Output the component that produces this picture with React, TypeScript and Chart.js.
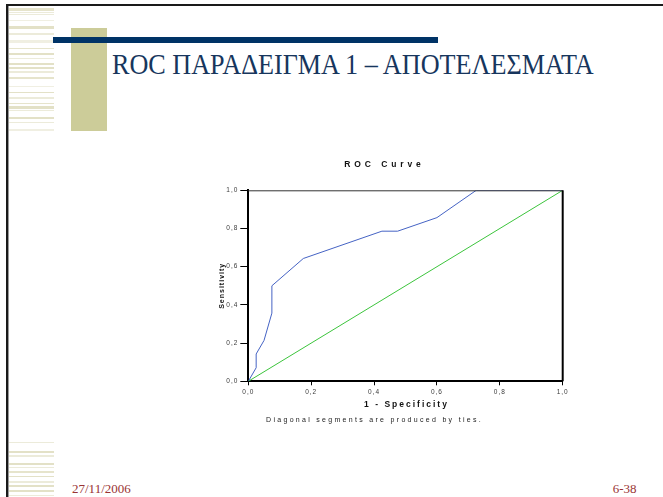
import React, { useEffect, useRef } from "react";
import { Chart, registerables } from "chart.js";

Chart.register(...registerables);

// ---- text ----
const slideTitle = "ROC ΠΑΡΑΔΕΙΓΜΑ 1 – ΑΠΟΤΕΛΕΣΜΑΤΑ";
const chartTitle = "ROC Curve";
const xAxisTitle = "1 - Specificity";
const yAxisTitle = "Sensitivity";
const footnote = "Diagonal segments are produced by ties.";
const footerDate = "27/11/2006";
const footerPage = "6-38";

// ---- data ----
const rocFpr = [0, 0.025, 0.025, 0.05, 0.075, 0.075, 0.175, 0.425, 0.475, 0.6, 0.725, 1];
const rocTpr = [0, 0.071, 0.143, 0.214, 0.357, 0.5, 0.643, 0.786, 0.786, 0.857, 1, 1];
const refFpr = [0, 1];
const refTpr = [0, 1];
const axisMin = 0;
const axisMax = 1;
const axisStep = 0.2;

// ---- slide decoration stripes (top / bottom of left margin) ----
const stripesTop: [number, number, string][] = [
  [8, 2.7, "#E6E4CC"], [12, 0.8, "#ECEBDA"], [14, 1.4, "#ECEBDA"], [20, 1.4, "#F0EFE2"],
  [26, 2.7, "#E3E1C7"], [33.3, 1.4, "#ECEBDA"], [40, 2.7, "#F0EFE2"], [48, 0.8, "#E6E4CC"],
  [52.7, 2, "#E3E1C7"], [58, 1.4, "#ECEBDA"], [63.3, 1.4, "#E3E1C7"], [66.7, 2.6, "#E3E1C7"],
  [71.3, 1.4, "#ECEBDA"], [77.3, 1.4, "#E6E4CC"], [86, 1.4, "#F0EFE2"], [92, 1.4, "#E3E1C7"],
  [96.7, 2, "#ECEBDA"], [102.7, 1.4, "#E6E4CC"], [106, 2.7, "#E3E1C7"], [110, 1.4, "#ECEBDA"],
  [116.7, 2.6, "#E3E1C7"], [122, 1.4, "#ECEBDA"], [128.7, 2, "#F0EFE2"],
];
const stripesBottom: [number, number, string][] = [
  [442, 1.4, "#ECEBDA"], [450.7, 2.6, "#E3E1C7"], [455.3, 1.4, "#ECEBDA"], [463.3, 1.4, "#E3E1C7"],
  [466.7, 1.4, "#ECEBDA"], [471.3, 1.4, "#E6E4CC"], [476, 1.4, "#E3E1C7"], [481.3, 1.4, "#ECEBDA"],
  [485.3, 1.4, "#E3E1C7"], [490, 2, "#E3E1C7"], [494.7, 1.4, "#ECEBDA"],
];

const fmt = (v: number) => v.toFixed(1).replace(".", ",");

const drawSpaced = (
  ctx: CanvasRenderingContext2D,
  text: string,
  x: number,
  y: number,
  font: string,
  spacing: number,
  align: CanvasTextAlign = "center"
) => {
  (ctx as any).letterSpacing = spacing + "px";
  ctx.font = font;
  ctx.textAlign = align;
  ctx.textBaseline = "alphabetic";
  ctx.fillText(text, x, y);
};

const decorPlugin = {
  id: "spssDecor",
  beforeDraw(chart: any) {
    (chart.ctx as any).letterSpacing = "1px";
  },
  afterDraw(chart: any) {
    const ctx: CanvasRenderingContext2D = chart.ctx;
    const a = chart.chartArea;
    ctx.save();
    // top and right frame lines
    ctx.strokeStyle = "#333";
    ctx.lineWidth = 1;
    ctx.beginPath();
    ctx.moveTo(a.left, a.top + 0.5);
    ctx.lineTo(a.right, a.top + 0.5);
    ctx.stroke();
    ctx.strokeStyle = "#000";
    ctx.lineWidth = 2;
    ctx.beginPath();
    ctx.moveTo(a.right, a.top);
    ctx.lineTo(a.right, a.bottom);
    ctx.stroke();

    ctx.fillStyle = "#111";
    const cx = (a.left + a.right) / 2;
    drawSpaced(ctx, chartTitle, cx - 21, a.top - 23, "bold 8.5px 'Liberation Sans', Arial", 3.9);
    drawSpaced(ctx, xAxisTitle, cx + 1, a.bottom + 26, "bold 8.5px 'Liberation Sans', Arial", 2);
    ctx.fillStyle = "#222";
    drawSpaced(ctx, footnote, cx - 31, a.bottom + 41, "7px 'Liberation Sans', Arial", 2.3);

    // y axis title (rotated)
    ctx.save();
    ctx.translate(a.left - 27, (a.top + a.bottom) / 2);
    ctx.rotate(-Math.PI / 2);
    ctx.fillStyle = "#111";
    drawSpaced(ctx, yAxisTitle, 0, 2.5, "bold 7px 'Liberation Sans', Arial", 1);
    ctx.restore();
    ctx.restore();
  },
};

function ROCChart() {
  const ref = useRef<HTMLCanvasElement | null>(null);
  useEffect(() => {
    if (!ref.current) return;
    const tickFont = { family: "'Liberation Sans', Arial", size: 6.5 };
    const chart = new Chart(ref.current, {
      type: "scatter",
      data: {
        datasets: [
          {
            label: "ROC",
            data: rocFpr.map((x, i) => ({ x, y: rocTpr[i] })),
            showLine: true,
            borderColor: "#4563C4",
            borderWidth: 1,
            pointRadius: 0,
            tension: 0,
          },
          {
            label: "Reference",
            data: refFpr.map((x, i) => ({ x, y: refTpr[i] })),
            showLine: true,
            borderColor: "#3CC43C",
            borderWidth: 1,
            pointRadius: 0,
            tension: 0,
          },
        ],
      },
      options: {
        animation: false,
        responsive: false,
        events: [],
        layout: { padding: { left: 208.3, top: 190.3, right: 100.3, bottom: 95.7 } },
        plugins: { legend: { display: false }, tooltip: { enabled: false }, title: { display: false } },
        scales: {
          x: {
            type: "linear",
            min: axisMin,
            max: axisMax,
            afterFit: (s: any) => {
              s.height = 20;
            },
            ticks: {
              stepSize: axisStep,
              callback: (v: any) => fmt(Number(v)),
              font: tickFont,
              color: "#3a3a3a",
              padding: 3,
              maxRotation: 0,
            },
            grid: { drawOnChartArea: false, drawTicks: true, tickLength: 4, color: "#000", lineWidth: 1 },
            border: { display: true, color: "#000", width: 2 },
          },
          y: {
            type: "linear",
            min: axisMin,
            max: axisMax,
            afterFit: (s: any) => {
              s.width = 40;
            },
            ticks: {
              stepSize: axisStep,
              callback: (v: any) => fmt(Number(v)),
              font: tickFont,
              color: "#3a3a3a",
              padding: 2,
            },
            grid: { drawOnChartArea: false, drawTicks: true, tickLength: 8, color: "#000", lineWidth: 1 },
            border: { display: true, color: "#000", width: 2 },
          },
        },
      },
      plugins: [decorPlugin],
    } as any);
    return () => chart.destroy();
  }, []);
  return (
    <canvas
      ref={ref}
      width={663}
      height={497}
      style={{ position: "absolute", left: 0, top: 0, width: 663, height: 497 }}
    />
  );
}

export default function App() {
  const stripe = (s: [number, number, string], i: number) => (
    <div
      key={i}
      style={{ position: "absolute", left: 9, top: s[0], width: 45, height: s[1], background: s[2] }}
    />
  );
  return (
    <div
      style={{
        position: "absolute",
        left: 0,
        top: 0,
        width: 663,
        height: 497,
        background: "#fff",
        overflow: "hidden",
      }}
    >
      {/* frame */}
      <div style={{ position: "absolute", left: 6, top: 4, width: 657, height: 2, background: "#1a1a1a" }} />
      <div style={{ position: "absolute", left: 6, top: 4, width: 2, height: 493, background: "#1a1a1a" }} />
      <div style={{ position: "absolute", left: 8, top: 6, width: 1, height: 491, background: "#9a9a9a" }} />
      {stripesTop.map(stripe)}
      {stripesBottom.map((s, i) => stripe(s, 100 + i))}
      {/* title decoration */}
      <div style={{ position: "absolute", left: 71, top: 28, width: 36, height: 103, background: "#CCCC99" }} />
      <div style={{ position: "absolute", left: 53, top: 37, width: 385, height: 6, background: "#003366" }} />
      <div
        style={{
          position: "absolute",
          left: 112,
          top: 49,
          fontFamily: "'Liberation Serif', 'Times New Roman', serif",
          fontSize: 30,
          lineHeight: "30px",
          color: "#17365D",
          whiteSpace: "nowrap",
          transform: "scaleX(0.872)",
          transformOrigin: "0 0",
        }}
      >
        {slideTitle}
      </div>
      {/* footer */}
      <div
        style={{
          position: "absolute",
          left: 72,
          top: 481.6,
          fontFamily: "'Liberation Serif', 'Times New Roman', serif",
          fontSize: 13,
          lineHeight: "13px",
          color: "#993333",
          whiteSpace: "nowrap",
        }}
      >
        {footerDate}
      </div>
      <div
        style={{
          position: "absolute",
          left: 612.7,
          top: 481.6,
          fontFamily: "'Liberation Serif', 'Times New Roman', serif",
          fontSize: 13,
          lineHeight: "13px",
          color: "#993333",
          whiteSpace: "nowrap",
        }}
      >
        {footerPage}
      </div>
      <ROCChart />
    </div>
  );
}
